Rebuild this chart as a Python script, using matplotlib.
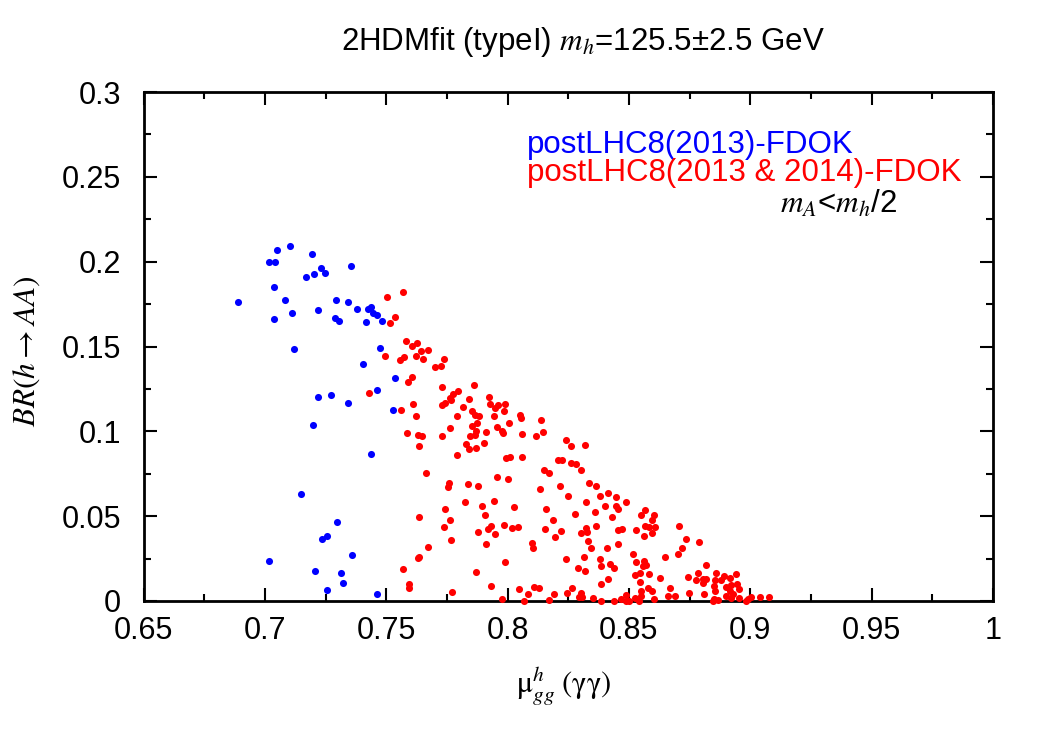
import numpy as np
import matplotlib
matplotlib.use("Agg")
import matplotlib.pyplot as plt
from matplotlib.ticker import MultipleLocator

plt.rcParams['font.family'] = ['Liberation Sans', 'DejaVu Sans']
plt.rcParams['mathtext.fontset'] = 'stix'

# postLHC8(2013)-FDOK points
blue_x = [0.6888, 0.7018, 0.7042, 0.7049, 0.7102, 0.7038, 0.7084, 0.7112, 0.7038, 0.7121,
          0.7195, 0.7170, 0.7203, 0.7232, 0.7248, 0.7354, 0.7217, 0.7295, 0.7343, 0.7380,
          0.7423, 0.7437, 0.7446, 0.7460, 0.7481, 0.7416, 0.7289, 0.7305, 0.7473, 0.7405,
          0.7536, 0.7461, 0.7528, 0.7344, 0.7274, 0.7221, 0.7199, 0.7437, 0.7149, 0.7296,
          0.7255, 0.7236, 0.7361, 0.7016, 0.7207, 0.7314, 0.7320, 0.7256, 0.7464]
blue_y = [0.1763, 0.1999, 0.1999, 0.2068, 0.2092, 0.1852, 0.1777, 0.1700, 0.1661, 0.1486,
          0.2048, 0.1909, 0.1929, 0.1960, 0.1932, 0.1973, 0.1718, 0.1777, 0.1763, 0.1722,
          0.1722, 0.1730, 0.1698, 0.1684, 0.1651, 0.1643, 0.1669, 0.1649, 0.1492, 0.1399,
          0.1315, 0.1244, 0.1123, 0.1169, 0.1212, 0.1202, 0.1037, 0.0868, 0.0633, 0.0466,
          0.0385, 0.0364, 0.0270, 0.0236, 0.0179, 0.0164, 0.0108, 0.0067, 0.0040]

# postLHC8(2013 & 2014)-FDOK points
red_x = [0.7505, 0.7571, 0.7535, 0.7516, 0.7580, 0.7608, 0.7628, 0.7645, 0.7674, 0.7623,
         0.7651, 0.7493, 0.7557, 0.7575, 0.7740, 0.7727, 0.7702, 0.7605, 0.7590, 0.7728,
         0.7860, 0.7794, 0.7775, 0.7764, 0.7767, 0.7840, 0.7922, 0.7927, 0.7947, 0.7962,
         0.7989, 0.7984, 0.7728, 0.7744, 0.7818, 0.7852, 0.7865, 0.7881, 0.7790, 0.7945,
         0.7561, 0.7609, 0.7624, 0.8052, 0.8055, 0.8139, 0.8007, 0.7855, 0.7874, 0.7764,
         0.7956, 0.7978, 0.7982, 0.7911, 0.7870, 0.7845, 0.7867, 0.8059, 0.8118, 0.8144,
         0.7586, 0.7633, 0.7647, 0.7731, 0.7634, 0.7827, 0.7904, 0.7841, 0.7870, 0.7790,
         0.7995, 0.8011, 0.8058, 0.8239, 0.8260, 0.8321, 0.8207, 0.8226, 0.8260, 0.8281,
         0.8302, 0.8151, 0.8172, 0.7664, 0.7956, 0.8003, 0.7757, 0.7756, 0.7837, 0.7878,
         0.8337, 0.8363, 0.8215, 0.8132, 0.8380, 0.8414, 0.8446, 0.8250, 0.8324, 0.8489,
         0.8400, 0.8446, 0.8453, 0.8361, 0.8429, 0.8279, 0.8159, 0.8026, 0.7944, 0.7896,
         0.7823, 0.7744, 0.7908, 0.7763, 0.7637, 0.8186, 0.7738, 0.7930, 0.7919, 0.7984,
         0.8019, 0.8042, 0.7878, 0.7949, 0.8153, 0.8221, 0.8196, 0.8366, 0.8325, 0.8326,
         0.8303, 0.8457, 0.8472, 0.8330, 0.7768, 0.7911, 0.8100, 0.8104, 0.8344, 0.8410,
         0.8454, 0.7671, 0.7635, 0.7631, 0.8240, 0.8313, 0.8380, 0.8383, 0.8421, 0.8437,
         0.7989, 0.8289, 0.8317, 0.7569, 0.7870, 0.8413, 0.8383, 0.7594, 0.7593, 0.7931,
         0.8049, 0.8110, 0.8129, 0.8265, 0.7770, 0.8084, 0.8192, 0.8246, 0.8303, 0.8307,
         0.8296, 0.7979, 0.8066, 0.8169, 0.8351, 0.8383, 0.8440, 0.8466, 0.8489, 0.8486,
         0.8568, 0.8549, 0.8605, 0.8593, 0.8565, 0.8606, 0.8594, 0.8563, 0.8581, 0.8528,
         0.8708, 0.8734, 0.8789, 0.8720, 0.8701, 0.8650, 0.8516, 0.8528, 0.8561, 0.8571,
         0.8559, 0.8527, 0.8544, 0.8584, 0.8627, 0.8546, 0.8816, 0.8745, 0.8785, 0.8775,
         0.8805, 0.8816, 0.8807, 0.8857, 0.8890, 0.8855, 0.8878, 0.8916, 0.8941, 0.8849,
         0.8898, 0.8919, 0.8944, 0.8853, 0.8918, 0.8952, 0.8668, 0.8579, 0.8597, 0.8549,
         0.8748, 0.8808, 0.8900, 0.8929, 0.8663, 0.8690, 0.8527, 0.8550, 0.8604, 0.8852,
         0.8867, 0.8919, 0.8955, 0.8992, 0.9004, 0.9038, 0.9077, 0.8499, 0.8543, 0.8845,
         0.8982, 0.7431]
red_y = [0.1790, 0.1822, 0.1675, 0.1641, 0.1533, 0.1505, 0.1519, 0.1474, 0.1478, 0.1446,
         0.1424, 0.1444, 0.1423, 0.1439, 0.1429, 0.1387, 0.1380, 0.1322, 0.1293, 0.1259,
         0.1273, 0.1238, 0.1222, 0.1197, 0.1182, 0.1192, 0.1202, 0.1161, 0.1138, 0.1157,
         0.1163, 0.1122, 0.1153, 0.1167, 0.1141, 0.1117, 0.1098, 0.1092, 0.1092, 0.1092,
         0.1128, 0.1161, 0.1092, 0.1098, 0.1079, 0.1067, 0.1049, 0.1029, 0.1047, 0.1019,
         0.1023, 0.1002, 0.0988, 0.0998, 0.1004, 0.0974, 0.0976, 0.0986, 0.0972, 0.0996,
         0.0990, 0.0976, 0.0972, 0.0970, 0.0915, 0.0925, 0.0933, 0.0897, 0.0899, 0.0858,
         0.0844, 0.0846, 0.0850, 0.0949, 0.0913, 0.0921, 0.0832, 0.0831, 0.0811, 0.0809,
         0.0775, 0.0772, 0.0754, 0.0754, 0.0732, 0.0718, 0.0695, 0.0671, 0.0689, 0.0679,
         0.0695, 0.0675, 0.0677, 0.0659, 0.0620, 0.0639, 0.0612, 0.0618, 0.0586, 0.0584,
         0.0559, 0.0559, 0.0543, 0.0525, 0.0498, 0.0512, 0.0541, 0.0553, 0.0589, 0.0559,
         0.0583, 0.0545, 0.0506, 0.0478, 0.0496, 0.0476, 0.0435, 0.0443, 0.0425, 0.0445,
         0.0431, 0.0435, 0.0406, 0.0394, 0.0425, 0.0411, 0.0380, 0.0441, 0.0429, 0.0406,
         0.0401, 0.0417, 0.0423, 0.0356, 0.0358, 0.0338, 0.0342, 0.0311, 0.0311, 0.0315,
         0.0338, 0.0317, 0.0262, 0.0254, 0.0250, 0.0260, 0.0246, 0.0208, 0.0217, 0.0197,
         0.0228, 0.0193, 0.0177, 0.0187, 0.0173, 0.0130, 0.0099, 0.0100, 0.0075, 0.0089,
         0.0071, 0.0084, 0.0075, 0.0075, 0.0051, 0.0040, 0.0041, 0.0045, 0.0045, 0.0025,
         0.0022, 0.0014, 0.0000, 0.0008, 0.0018, 0.0002, 0.0002, 0.0014, 0.0037, 0.0002,
         0.0537, 0.0509, 0.0506, 0.0478, 0.0441, 0.0439, 0.0403, 0.0385, 0.0435, 0.0421,
         0.0441, 0.0368, 0.0347, 0.0311, 0.0276, 0.0258, 0.0279, 0.0230, 0.0236, 0.0213,
         0.0207, 0.0153, 0.0164, 0.0161, 0.0136, 0.0110, 0.0211, 0.0143, 0.0164, 0.0124,
         0.0130, 0.0128, 0.0108, 0.0167, 0.0148, 0.0124, 0.0122, 0.0136, 0.0158, 0.0090,
         0.0081, 0.0093, 0.0100, 0.0059, 0.0059, 0.0069, 0.0075, 0.0079, 0.0057, 0.0059,
         0.0047, 0.0043, 0.0031, 0.0040, 0.0030, 0.0028, 0.0018, 0.0028, 0.0012, 0.0012,
         0.0008, 0.0018, 0.0018, 0.0010, 0.0022, 0.0025, 0.0025, 0.0000, 0.0000, 0.0000,
         0.0000, 0.1224]

x_ticks = [0.65, 0.7, 0.75, 0.8, 0.85, 0.9, 0.95, 1.0]
y_ticks = [0, 0.05, 0.1, 0.15, 0.2, 0.25, 0.3]

W, H = 1050, 733
fig = plt.figure(figsize=(W / 100, H / 100), dpi=100)
ax = fig.add_axes([143.5 / W, 1 - 601 / H, (993 - 143.5) / W, (601 - 92) / H])

ax.scatter(blue_x, blue_y, s=26, color='#0000ff', linewidths=0, clip_on=False, zorder=3)
ax.scatter(red_x, red_y, s=26, color='#ff0000', linewidths=0, clip_on=False, zorder=4)

ax.set_xlim(0.65, 1.0)
ax.set_ylim(0, 0.3)
ax.set_xticks(x_ticks)
ax.set_xticklabels([f"{v:g}" for v in x_ticks])
ax.set_yticks(y_ticks)
ax.set_yticklabels([f"{v:g}" for v in y_ticks])
ax.xaxis.set_minor_locator(MultipleLocator(0.025))
ax.yaxis.set_minor_locator(MultipleLocator(0.025))
ax.tick_params(which='both', direction='in', top=True, right=True, width=1.5)
ax.tick_params(which='major', length=9.5, labelsize=22)
ax.tick_params(axis='x', which='major', pad=11)
ax.tick_params(axis='y', which='major', pad=16)
ax.tick_params(which='minor', length=5)
for sp in ax.spines.values():
    sp.set_linewidth(2)

# title and axis labels
fig.text(583 / W, 1 - 50 / H, r"2HDMfit (typeI) $m_h$=125.5±2.5 GeV",
         ha='center', va='baseline', fontsize=22.5)
fig.text(27 / W, 1 - 351 / H, r"$BR(h\rightarrow AA)$", rotation=90,
         ha='center', va='center', fontsize=22.5)
fig.text(564 / W, 1 - 686 / H, r"$\mathrm{μ}^{h}_{gg}\;\mathrm{(γγ)}$",
         ha='center', va='center', fontsize=22)

# legend-like labels
fig.text(527 / W, 1 - 153 / H, "postLHC8(2013)-FDOK", color='#0000ff',
         ha='left', va='baseline', fontsize=22.5)
fig.text(527 / W, 1 - 181 / H, "postLHC8(2013 & 2014)-FDOK", color='#ff0000',
         ha='left', va='baseline', fontsize=22.5)
fig.text(780 / W, 1 - 213 / H, r"$m_A$<$m_h$/2", color='black',
         ha='left', va='baseline', fontsize=22.5)

fig.savefig("out.png", dpi=100)
